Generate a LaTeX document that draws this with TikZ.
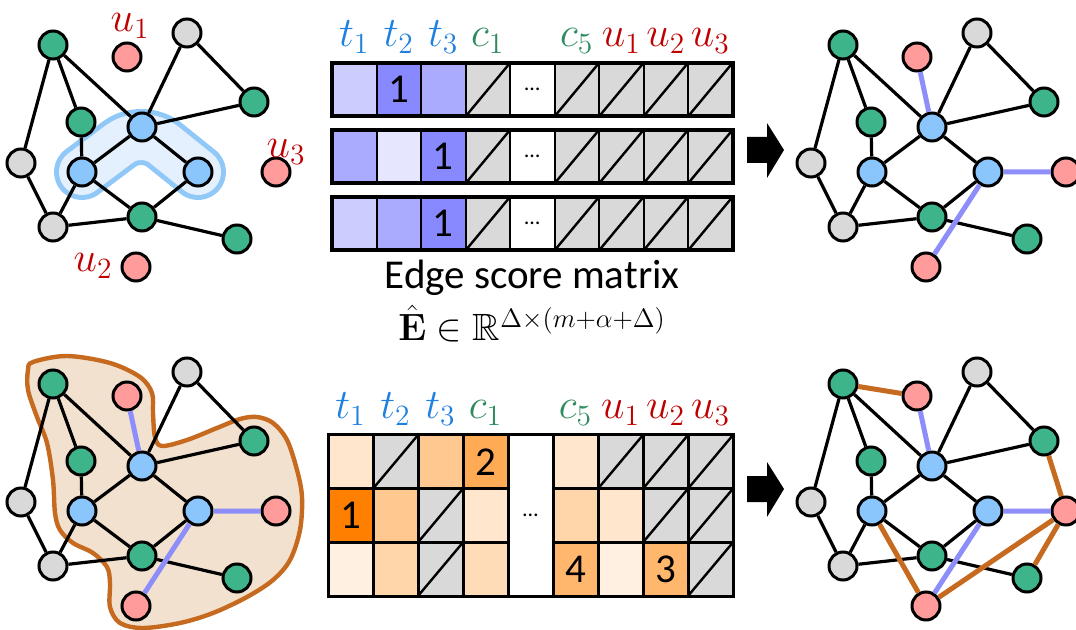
\RequirePackage{fix-cm}
\documentclass[tikz,border=0pt]{standalone}
\usepackage{amsmath,amssymb}
\usepackage[no-math]{fontspec}
\setmainfont{Carlito}
\usepackage{xcolor}
\usepackage{tikz}
\usetikzlibrary{backgrounds}

\definecolor{ngreen}{HTML}{3DB489}
\definecolor{nblue}{HTML}{8AC5FC}
\definecolor{ngray}{HTML}{D9D9D9}
\definecolor{npink}{HTML}{FF9B9B}
\definecolor{epurple}{HTML}{8E8EFA}
\definecolor{eorange}{HTML}{C56A1E}
\definecolor{blobline}{HTML}{90C8F8}
\definecolor{blobfill}{HTML}{E4F0FD}
\definecolor{orfill}{HTML}{F3E1D0}
\definecolor{labt}{HTML}{1F80E0}
\definecolor{labc}{HTML}{2E8B5E}
\definecolor{labu}{HTML}{C00000}
\definecolor{cellgray}{HTML}{D9D9D9}
\definecolor{tpA}{HTML}{CCCCFF}
\definecolor{tpB}{HTML}{8888FF}
\definecolor{tpC}{HTML}{AAAAFF}
\definecolor{tpD}{HTML}{E6E6FF}
\definecolor{boA}{HTML}{FFE6CC}
\definecolor{boB}{HTML}{FFC891}
\definecolor{boC}{HTML}{FFAB55}
\definecolor{boD}{HTML}{FF8000}
\definecolor{boE}{HTML}{FFF0E1}
\definecolor{boF}{HTML}{FFD5AA}
\definecolor{boG}{HTML}{FFDCB8}
\definecolor{boH}{HTML}{FFB76E}

% the common part of all four graphs
\newcommand{\basegraph}{%
  \node[gn] (ga) at (53,45) {};
  \node[yn] (ya) at (187,33) {};
  \node[gn] (gr) at (254,102) {};
  \node[gn] (gm) at (81,122) {};
  \node[bn] (bt) at (142,127) {};
  \node[yn] (yl) at (21,163) {};
  \node[bn] (bl) at (82,172) {};
  \node[bn] (br) at (198,172) {};
  \node[yn] (yb) at (53,227) {};
  \node[gn] (gb) at (142,217) {};
  \node[gn] (gc) at (237,239) {};
  \draw[edge] (ga) -- (yl) (ga) -- (gm) (ga) -- (bt) (gm) -- (bl) (yl) -- (yb)
    (bl) -- (yb) (bl) -- (bt) (bl) -- (gb) (bt) -- (br) (bt) -- (ya) (bt) -- (gr)
    (ya) -- (gr) (br) -- (gb) (yb) -- (gb) (gb) -- (gc);
}
\newcommand{\pinknodes}{%
  \node[pn] (u1) at (127,57) {};
  \node[pn] (u2) at (136,267) {};
  \node[pn] (u3) at (276,172) {};
}

\begin{document}
\begin{tikzpicture}[x=0.5pt, y=-0.5pt,
  nd/.style={circle, draw, line width=1.5pt, minimum size=14pt, inner sep=0pt},
  gn/.style={nd, fill=ngreen},
  yn/.style={nd, fill=ngray},
  bn/.style={nd, fill=nblue},
  pn/.style={nd, fill=npink},
  edge/.style={line width=1.6pt},
  pedge/.style={line width=2.5pt, epurple},
  oedge/.style={line width=2.5pt, eorange},
  lab/.style={font=\fontsize{21}{23}\selectfont, anchor=base, inner sep=0pt},
  big/.style={font=\fontsize{20.5}{24}\selectfont, inner sep=0pt},
  txt/.style={font=\fontsize{20.5}{24}\selectfont, anchor=base, inner sep=0pt},
  dots/.style={font=\fontsize{11}{13}\selectfont, inner sep=0pt}]
\useasboundingbox (0,0) rectangle (1076,630);

% input graph with the selected nodes
\begin{scope}[name prefix=a-]
\basegraph
\pinknodes
\node[lab, text=labu] (lu1) at (130,32) {$u_1$};
\node[lab, text=labu] (lu2) at (93,272) {$u_2$};
\node[lab, text=labu] (lu3) at (286,158) {$u_3$};
\begin{scope}[on background layer]
\draw[blobline, line width=28pt, line cap=round, line join=round, rounded corners=14pt] (bl.center) -- (bt.center) -- (br.center);
\draw[blobfill, line width=23pt, line cap=round, line join=round, rounded corners=14pt] (bl.center) -- (bt.center) -- (br.center);
\end{scope}
\end{scope}

% graph after the first step
\begin{scope}[shift={(790,0)}, name prefix=b-]
\basegraph
\pinknodes
\draw[pedge] (u1) -- (bt) (u3) -- (br) (u2) -- (br);
\end{scope}

% graph with the region of the second step
\begin{scope}[shift={(0,339)}, name prefix=c-]
\basegraph
\pinknodes
\draw[pedge] (u1) -- (bt) (u3) -- (br) (u2) -- (br);
\end{scope}
\begin{scope}[on background layer]
\draw[eorange, fill=orfill, line width=2.2pt] plot[smooth cycle, tension=0.55] coordinates {
  (33,362) (67,356) (110,363) (140,377) (152,393) (153,413) (155,437) (162,446)
  (187,440) (217,428) (240,419) (257,417) (273,423) (287,440) (297,470) (302,497)
  (300,530) (290,560) (273,580) (247,597) (213,613) (180,623) (143,628) (120,623)
  (110,607) (110,583) (107,567) (93,553) (73,543) (60,530) (55,513) (53,480)
  (47,443) (37,417) (28,390) (28,370)};
\end{scope}

% final graph
\begin{scope}[shift={(790,339)}, name prefix=d-]
\basegraph
\pinknodes
\draw[oedge] (ga) -- (u1) (gr) -- (u3) (gc) -- (u3) (u3) -- (u2) (bl) -- (u2);
\draw[pedge] (u1) -- (bt) (u3) -- (br) (u2) -- (br);
\end{scope}

% block arrows
\foreach \dy in {0,339}
  \fill[shift={(0,\dy)}] (747,137) -- (767,137) -- (767,123) -- (784,150) -- (767,178) -- (767,163) -- (747,163) -- cycle;

% edge score matrix (top)
\foreach \c/\r/\cl in {1/1/tpA,2/1/tpB,3/1/tpC,1/2/tpC,2/2/tpD,3/2/tpB,1/3/tpA,2/3/tpC,3/3/tpB}
  \fill[\cl] ({332+(\c-1)*44.5},{63+(\r-1)*67}) rectangle ++(44.5,53.5);
\foreach \r in {1,2,3} {
  \foreach \c in {4,6,7,8,9} {
    \fill[cellgray] ({332+(\c-1)*44.5},{63+(\r-1)*67}) rectangle ++(44.5,53.5);
    \draw[line width=1.2pt] ({332+(\c-1)*44.5},{63+(\r-1)*67+53.5}) -- ++(44.5,-53.5);
  }
  \foreach \i in {1,...,8}
    \draw[line width=1pt] ({332+\i*44.5},{63+(\r-1)*67}) -- ++(0,53.5);
  \draw[line width=2pt] (332,{63+(\r-1)*67}) rectangle ++(400.5,53.5);
  \node[dots] (tdots\r) at (532.25,{89.75+(\r-1)*67}) {…};
}
\node[big] (tone1) at (398.75,89.75) {1};
\node[big] (tone2) at (443.25,156.75) {1};
\node[big] (tone3) at (443.25,223.75) {1};
\foreach \x/\t/\cl [count=\k] in {354.25/t_1/labt,398.75/t_2/labt,443.25/t_3/labt,487.75/c_1/labc,
    576.75/c_5/labc,621.25/u_1/labu,665.75/u_2/labu,710.25/u_3/labu}
  \node[lab, text=\cl] (thd\k) at (\x,47) {$\t$};
\node[txt] (cap1) at (532,289) {Edge score matrix};
\node[txt, font=\fontsize{19}{22}\selectfont] (cap2) at (532,341) {$\hat{\mathbf{E}}\in\mathbb{R}^{\Delta\times(m+\alpha+\Delta)}$};

% second score matrix (bottom)
\foreach \c/\r/\cl in {1/1/boA,3/1/boB,4/1/boC,6/1/boA,1/2/boD,2/2/boB,4/2/boA,6/2/boF,7/2/boA,
    1/3/boE,2/3/boF,4/3/boG,6/3/boH,7/3/boE,8/3/boH}
  \fill[\cl] ({328+(\c-1)*45},{435+(\r-1)*53.67}) rectangle ++(45,53.67);
\foreach \c/\r in {2/1,7/1,8/1,9/1,3/2,8/2,9/2,3/3,9/3} {
  \fill[cellgray] ({328+(\c-1)*45},{435+(\r-1)*53.67}) rectangle ++(45,53.67);
  \draw[line width=1.2pt] ({328+(\c-1)*45},{435+\r*53.67}) -- ++(45,-53.67);
}
\foreach \i in {1,...,8}
  \draw[line width=1.5pt] ({328+\i*45},435) -- ++(0,161);
\foreach \yy in {488.67,542.33}
  \draw[line width=1.5pt] (328,\yy) -- (508,\yy) (553,\yy) -- (733,\yy);
\draw[line width=1.5pt] (328,435) rectangle (733,596);
\node[dots] (bdots) at (530.5,515.5) {…};
\node[big] (btwo) at (485.5,461.8) {2};
\node[big] (bone) at (350.5,515.5) {1};
\node[big] (bfour) at (575.5,569.2) {4};
\node[big] (bthree) at (665.5,569.2) {3};
\foreach \x/\t/\cl [count=\k] in {350.5/t_1/labt,395.5/t_2/labt,440.5/t_3/labt,485.5/c_1/labc,
    575.5/c_5/labc,620.5/u_1/labu,665.5/u_2/labu,710.5/u_3/labu}
  \node[lab, text=\cl] (bhd\k) at (\x,419) {$\t$};
\end{tikzpicture}
\end{document}
